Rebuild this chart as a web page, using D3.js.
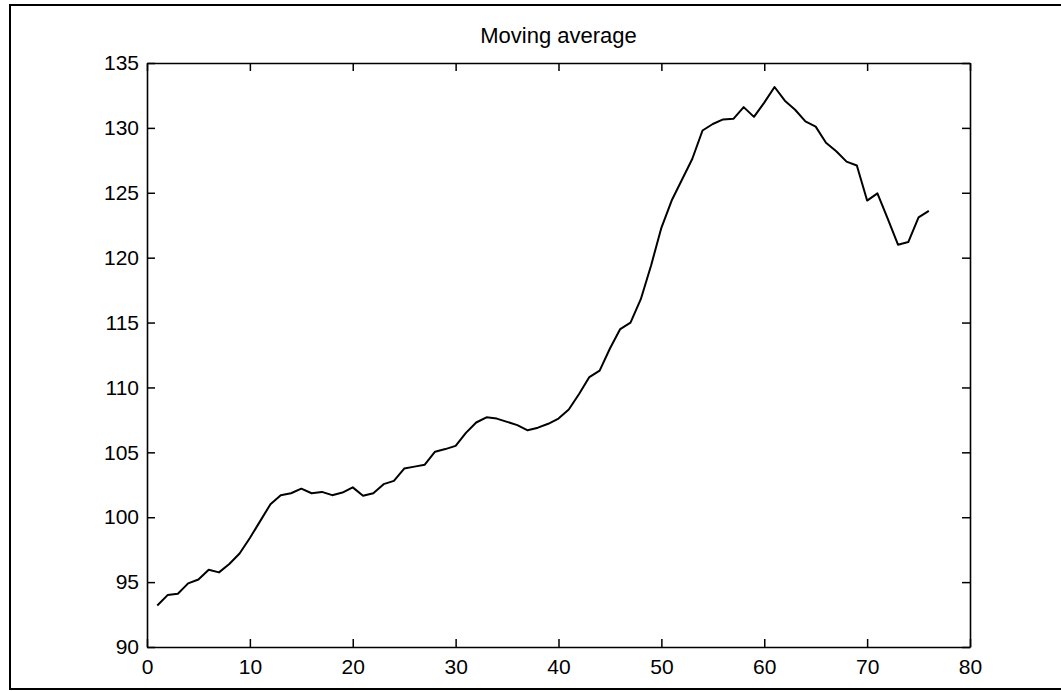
<!DOCTYPE html>
<html>
<head>
<meta charset="utf-8">
<script src="https://cdn.jsdelivr.net/npm/d3@7"></script>
<style>
  body { margin: 0; background: #fff; }
  text { font-family: "Liberation Sans", Arial, sans-serif; fill: #000; }
</style>
</head>
<body>
<div id="plot"></div>
<script>
// data
var xValues = d3.range(1, 77);
var maValues = [
  93.2, 94.0, 94.1, 94.9, 95.2, 95.95, 95.75, 96.4, 97.2, 98.4,
  99.7, 101.0, 101.7, 101.85, 102.2, 101.85, 101.95, 101.7, 101.9, 102.3,
  101.65, 101.85, 102.55, 102.8, 103.75, 103.9, 104.05, 105.05, 105.25, 105.5,
  106.5, 107.3, 107.7, 107.6, 107.35, 107.1, 106.7, 106.9, 107.2, 107.6,
  108.3, 109.5, 110.8, 111.3, 113.0, 114.5, 115.0, 116.8, 119.4, 122.3,
  124.4, 126.0, 127.6, 129.8, 130.3, 130.65, 130.7, 131.6, 130.85, 131.95,
  133.15, 132.1, 131.4, 130.5, 130.1, 128.85, 128.2, 127.4, 127.1, 124.4,
  124.95, 123.0, 121.0, 121.2, 123.1, 123.6
];
var xTicks = [0, 10, 20, 30, 40, 50, 60, 70, 80];
var yTicks = [90, 95, 100, 105, 110, 115, 120, 125, 130, 135];
var chartTitle = "Moving average";

// set the dimensions and margins of the graph
var W = 1061, H = 691;
var margin = {top: 63, right: 91, bottom: 44, left: 147},
    width = W - margin.left - margin.right,
    height = H - margin.top - margin.bottom;
var tickLen = 8;

var svg = d3.select("div#plot")
  .append("svg")
    .attr("width", W)
    .attr("height", H);

// frame of the scanned page
svg.append("path")
  .attr("d", "M1061,5 L10,5 L10,689 L1061,689")
  .attr("fill", "none")
  .attr("stroke", "#000")
  .attr("stroke-width", 2);

var g = svg.append("g")
  .attr("transform", "translate(" + margin.left + "," + margin.top + ")");

var x = d3.scaleLinear().domain([0, 80]).range([0, width]);
var y = d3.scaleLinear().domain([90, 135]).range([height, 0]);

// axes with inward ticks on all four sides
function styleAxis(sel) {
  sel.select(".domain").attr("stroke", "#000").attr("stroke-width", 1.6);
  sel.selectAll(".tick line").attr("stroke", "#000").attr("stroke-width", 1.5);
  sel.selectAll("text").style("font-size", "21px");
}

g.append("g")
  .attr("transform", "translate(0," + height + ")")
  .call(d3.axisBottom(x).tickValues(xTicks).tickSizeInner(-tickLen).tickSizeOuter(0).tickPadding(12))
  .call(styleAxis);

g.append("g")
  .call(d3.axisTop(x).tickValues(xTicks).tickSizeInner(-tickLen).tickSizeOuter(0).tickFormat(""))
  .call(styleAxis);

g.append("g")
  .call(d3.axisLeft(y).tickValues(yTicks).tickSizeInner(-tickLen).tickSizeOuter(0).tickPadding(8))
  .call(styleAxis);

g.append("g")
  .attr("transform", "translate(" + width + ",0)")
  .call(d3.axisRight(y).tickValues(yTicks).tickSizeInner(-tickLen).tickSizeOuter(0).tickFormat(""))
  .call(styleAxis);

// the moving average line
var line = d3.line()
  .x(function (d, i) { return x(xValues[i]); })
  .y(function (d) { return y(d); });

g.append("path")
  .datum(maValues)
  .attr("fill", "none")
  .attr("stroke", "#000")
  .attr("stroke-width", 2)
  .attr("stroke-linejoin", "round")
  .attr("d", line);

// title
g.append("text")
  .attr("x", width / 2)
  .attr("y", -20)
  .attr("text-anchor", "middle")
  .style("font-size", "22px")
  .text(chartTitle);
</script>
</body>
</html>
